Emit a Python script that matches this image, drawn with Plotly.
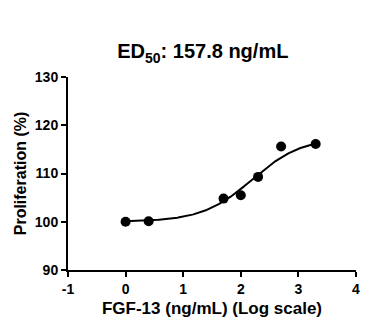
import numpy as np
import plotly.graph_objects as go

log_conc = [0.0, 0.4, 1.7, 2.0, 2.3, 2.7, 3.3]
prolif = [100.0, 100.1, 104.8, 105.5, 109.3, 115.6, 116.1]

# 4PL fit parameters
bottom = 100.0
top = 117.5
log_ec50 = np.log10(157.8)
hill = 1.0

x_tick_vals = [-1, 0, 1, 2, 3, 4]
y_tick_vals = [90, 100, 110, 120, 130]

xc = np.linspace(0, 3.3, 200)
yc = bottom + (top - bottom) / (1 + 10 ** ((log_ec50 - xc) * hill))

font = "Liberation Sans, Arial, sans-serif"

fig = go.Figure()
fig.add_trace(go.Scatter(x=xc, y=yc, mode="lines",
                         line=dict(color="black", width=2), showlegend=False))
fig.add_trace(go.Scatter(x=log_conc, y=prolif, mode="markers",
                         marker=dict(color="black", size=10), showlegend=False))

fig.update_layout(
    width=390, height=332,
    margin=dict(l=68, r=34, t=77, b=62),
    plot_bgcolor="white", paper_bgcolor="white",
    title=dict(text="<b>ED<sub>50</sub>: 157.8 ng/mL</b>", x=0.52, xanchor="center",
               y=0.845, yanchor="middle", font=dict(family=font, size=20, color="black")),
    xaxis=dict(range=[-1, 4], tickvals=x_tick_vals,
               ticktext=[f"<b>{v}</b>" for v in x_tick_vals],
               showline=True, linecolor="black", linewidth=2,
               ticks="outside", tickwidth=2, ticklen=5, tickcolor="black",
               showgrid=False, zeroline=False,
               tickfont=dict(family=font, size=14, color="black"),
               title=dict(text="<b>FGF-13 (ng/mL) (Log scale)</b>", standoff=6,
                          font=dict(family=font, size=17, color="black"))),
    yaxis=dict(range=[90, 130], tickvals=y_tick_vals,
               ticktext=[f"<b>{v}</b>" for v in y_tick_vals],
               showline=True, linecolor="black", linewidth=2,
               ticks="outside", tickwidth=2, ticklen=5, tickcolor="black",
               showgrid=False, zeroline=False,
               tickfont=dict(family=font, size=14, color="black"),
               title=dict(text="<b>Proliferation (%)</b>", standoff=4,
                          font=dict(family=font, size=16, color="black"))),
)

fig.write_html("out.html")
